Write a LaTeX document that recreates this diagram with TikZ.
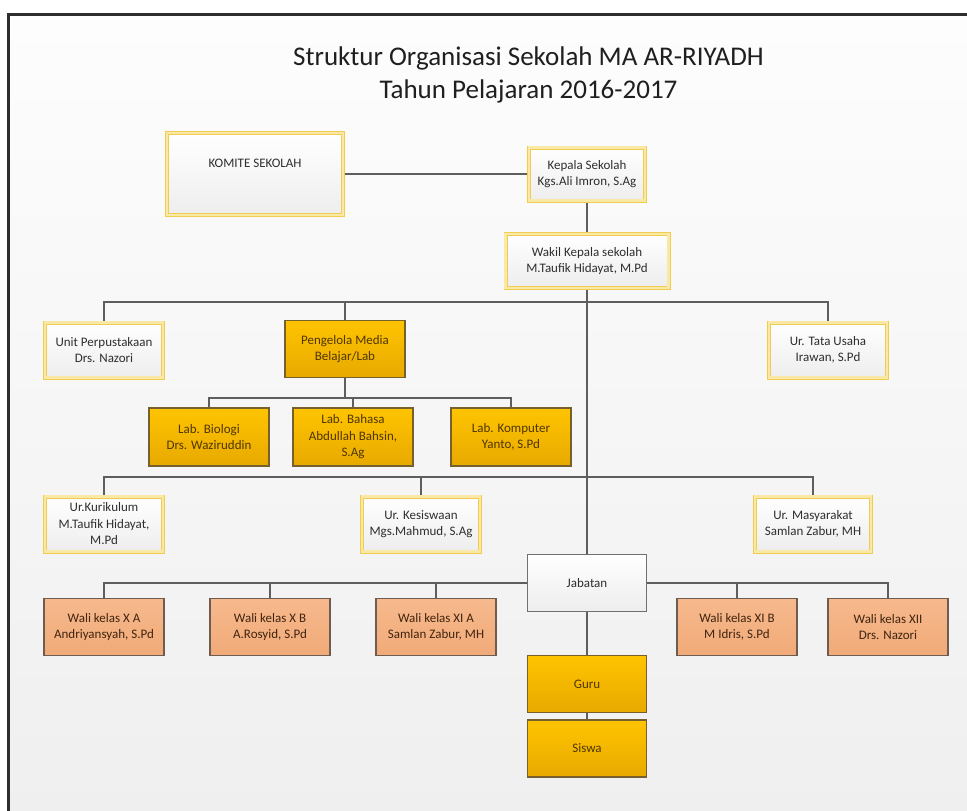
\documentclass[tikz,border=0pt]{standalone}
\usepackage{fontspec}
\setmainfont{Carlito}
\definecolor{bgtop}{HTML}{FDFDFD}
\definecolor{bgbot}{HTML}{EFEFEF}
\definecolor{framec}{HTML}{2E2E2E}
\definecolor{ygold}{HTML}{F0CC50}
\definecolor{ypale}{HTML}{FAE9A6}
\definecolor{wtext}{HTML}{2E2E2E}
\definecolor{gtop}{HTML}{FFC400}
\definecolor{gbot}{HTML}{E8A900}
\definecolor{gborder}{HTML}{76602E}
\definecolor{gtext}{HTML}{4E3600}
\definecolor{otop}{HTML}{F6B98D}
\definecolor{obot}{HTML}{F1AA78}
\definecolor{oborder}{HTML}{6E5C50}
\definecolor{otext}{HTML}{40240F}
\definecolor{jborder}{HTML}{707070}
\definecolor{linec}{HTML}{5E5E5E}
\pgfdeclarelayer{back}
\pgfdeclarelayer{lines}
\pgfsetlayers{back,lines,main}
\tikzset{
  boxtext/.style={font=\fontsize{13}{16.5}\selectfont, align=center, inner sep=1pt},
  ybox/.style={boxtext, draw=ygold, double=ypale, double distance=2.2pt, line width=0.9pt,
    top color=white, bottom color=black!7, text=wtext, minimum width=#1, minimum height=55pt},
  ybox/.default=118pt,
  gbox/.style={boxtext, draw=gborder, line width=1.2pt, top color=gtop, bottom color=gbot,
    text=gtext, minimum width=#1, minimum height=57pt},
  gbox/.default=120pt,
  obox/.style={boxtext, draw=oborder, line width=1.2pt, top color=otop, bottom color=obot,
    text=otext, minimum width=120pt, minimum height=57pt},
  jbox/.style={boxtext, draw=jborder, line width=1.2pt, top color=white, bottom color=black!7,
    text=wtext, minimum width=119pt, minimum height=57pt},
  conn/.style={draw=linec, line width=1.3pt},
  titletext/.style={font=\fontsize{27}{32}\selectfont, text=black!88, inner sep=0pt, anchor=base}
}
\begin{document}
\begin{tikzpicture}[x=1pt,y=-1pt]
\useasboundingbox (0,0) rectangle (967,811);
\clip (0,0) rectangle (967,811);
\begin{pgfonlayer}{back}
  \fill[white] (0,0) rectangle (967,811);
  \shade[top color=bgtop, bottom color=bgbot] (8,14) rectangle (975,820);
  \draw[framec, line width=3pt] (975,14) -- (8,14) -- (8,820);
\end{pgfonlayer}

\node[titletext] (t1) at (528.5,65) {Struktur Organisasi Sekolah MA AR-RIYADH};
\node[titletext] (t2) at (528.5,98) {Tahun Pelajaran 2016-2017};

\node[ybox=176pt, minimum height=82pt] (komite) at (255,174) {\raisebox{7pt}[0pt][0pt]{KOMITE SEKOLAH}};
\node[ybox=116pt, minimum height=53pt] (kepala) at (587,174) {Kepala Sekolah\\Kgs.Ali Imron, S.Ag};
\node[ybox=163pt, minimum height=54pt] (wakil) at (587,261) {Wakil Kepala sekolah\\M.Taufik Hidayat, M.Pd};

\node[ybox] (perpus) at (104,350) {Unit Perpustakaan\\Drs. Nazori};
\node[gbox] (pengelola) at (345,349) {Pengelola Media\\Belajar/Lab};
\node[ybox] (tatausaha) at (828,350) {Ur. Tata Usaha\\Irawan, S.Pd};

\node[gbox, minimum height=58pt] (biologi) at (209,437) {Lab. Biologi\\Drs. Waziruddin};
\node[gbox, minimum height=58pt] (bahasa) at (353,437) {Lab. Bahasa\\Abdullah Bahsin,\\S.Ag};
\node[gbox, minimum height=58pt] (komputer) at (511,437) {Lab. Komputer\\Yanto, S.Pd};

\node[ybox] (kurikulum) at (104,524) {Ur.Kurikulum\\M.Taufik Hidayat,\\M.Pd};
\node[ybox] (kesiswaan) at (421,524) {Ur. Kesiswaan\\Mgs.Mahmud, S.Ag};
\node[ybox=116pt] (masyarakat) at (813,524) {Ur. Masyarakat\\Samlan Zabur, MH};

\node[jbox] (jabatan) at (587,583) {Jabatan};

\node[obox] (waliXA) at (104,627) {Wali kelas X A\\Andriyansyah, S.Pd};
\node[obox] (waliXB) at (270,627) {Wali kelas X B\\A.Rosyid, S.Pd};
\node[obox] (waliXIA) at (436,627) {Wali kelas XI A\\Samlan Zabur, MH};
\node[obox] (waliXIB) at (737,627) {Wali kelas XI B\\M Idris, S.Pd};
\node[obox] (waliXII) at (888,627) {Wali kelas XII\\Drs. Nazori};

\node[gbox=119pt] (guru) at (587,684) {Guru};
\node[gbox=119pt] (siswa) at (587,748.5) {Siswa};

\begin{pgfonlayer}{lines}
  \coordinate (bus1) at (587,302);
  \coordinate (bus2) at (345,398);
  \coordinate (bus3) at (587,477);
  \draw[conn] (komite.east) -- (kepala.west);
  \draw[conn] (kepala.south) -- (wakil.north);
  \draw[conn] (wakil.south) -- (jabatan.north);
  \draw[conn] (perpus.north) |- (bus1) -| (tatausaha.north);
  \draw[conn] (pengelola.north) -- (pengelola.north |- bus1);
  \draw[conn] (pengelola.south) -- (bus2);
  \draw[conn] (biologi.north) |- (bus2) -| (komputer.north);
  \draw[conn] (bahasa.north) -- (bahasa.north |- bus2);
  \draw[conn] (kurikulum.north) |- (bus3) -| (masyarakat.north);
  \draw[conn] (kesiswaan.north) -- (kesiswaan.north |- bus3);
  \draw[conn] (waliXA.north) |- (jabatan.west);
  \draw[conn] (jabatan.east) -| (waliXII.north);
  \draw[conn] (waliXB.north) -- (waliXB.north |- jabatan.west);
  \draw[conn] (waliXIA.north) -- (waliXIA.north |- jabatan.west);
  \draw[conn] (waliXIB.north) -- (waliXIB.north |- jabatan.east);
  \draw[conn] (jabatan.south) -- (guru.north);
  \draw[conn] (guru.south) -- (siswa.north);
\end{pgfonlayer}
\end{tikzpicture}
\end{document}
